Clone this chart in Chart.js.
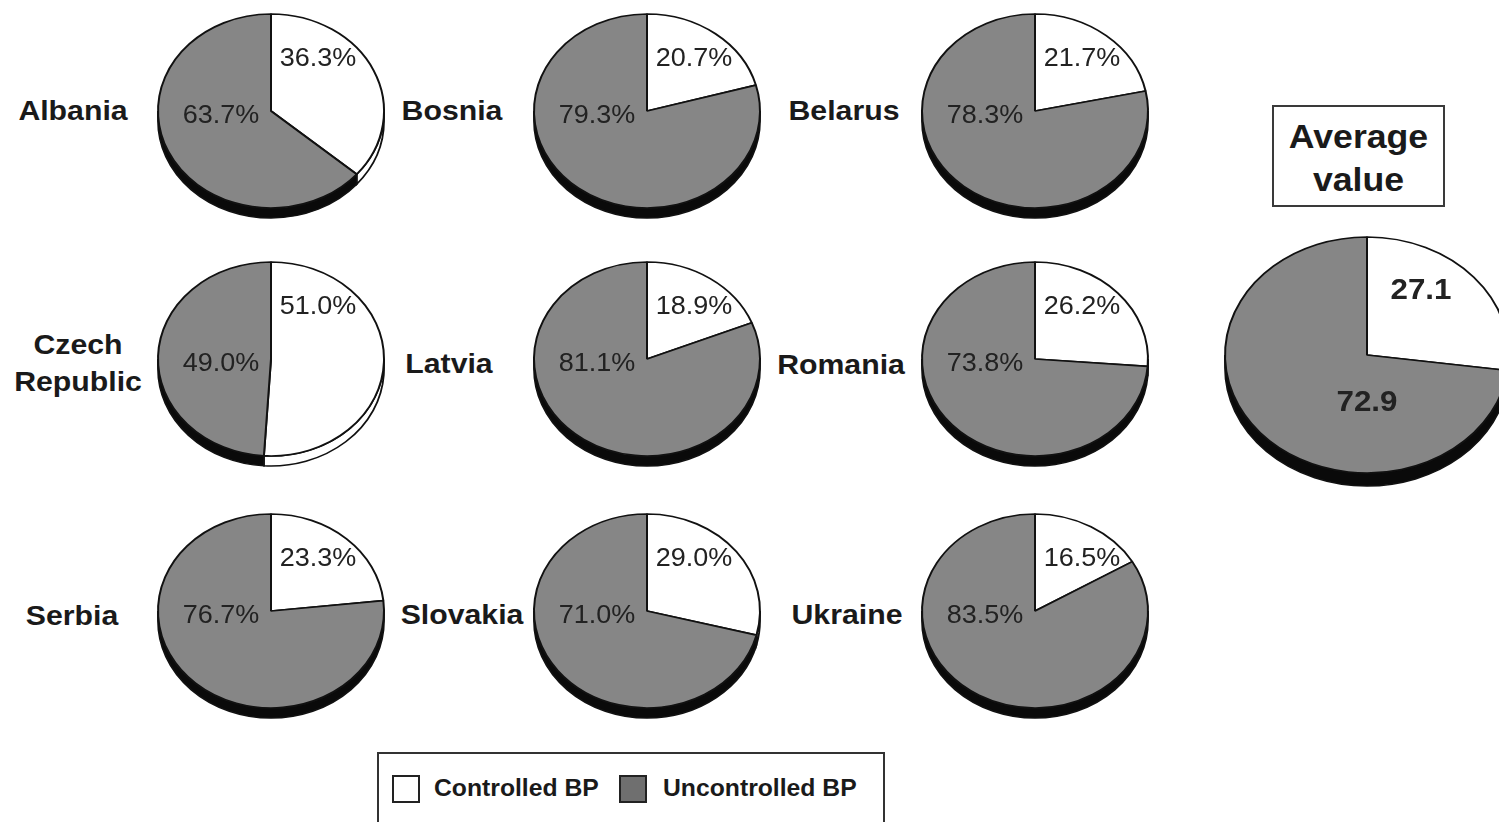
<!DOCTYPE html>
<html>
<head>
<meta charset="utf-8">
<script src="https://cdn.jsdelivr.net/npm/chart.js@4.4.0/dist/chart.umd.min.js"></script>
<style>
  html, body { margin: 0; padding: 0; background: #fff; overflow: hidden; }
  #stage { position: relative; width: 1499px; height: 822px; overflow: hidden; background: #fff;
           font-family: "Liberation Sans", Arial, Helvetica, sans-serif; color: #1a1a1a; }
  .pie { position: absolute; }
  .country { position: absolute; font-weight: bold; font-size: 28px; line-height: 37px; text-align: center;
             white-space: nowrap; transform: translate(-50%, -50%) scaleX(1.08); }
  #avgBox { position: absolute; left: 1272px; top: 105px; width: 169px; height: 98px; border: 2px solid #3a3a3a;
            font-weight: bold; font-size: 33px; line-height: 43px; text-align: center; }
  #avgBox div { transform: scaleX(1.08); }
  #avgBox .l1 { margin-top: 8px; }
  #legend { position: absolute; left: 377px; top: 752px; width: 504px; height: 120px; border: 2px solid #333; }
  #legend .sw { position: absolute; top: 21px; width: 24px; height: 24px; border: 2px solid #222; }
  #legend .lt { position: absolute; top: 19px; font-weight: bold; font-size: 24px; line-height: 30px; white-space: nowrap;
                transform-origin: left center; transform: scaleX(1.03); }
</style>
</head>
<body>
<div id="stage"></div>
<script>
// ---- data ----
const countries = ["Albania", "Bosnia", "Belarus", "Czech Republic", "Latvia", "Romania", "Serbia", "Slovakia", "Ukraine"];
const controlled = [36.3, 20.7, 21.7, 51.0, 18.9, 26.2, 23.3, 29.0, 16.5];
const uncontrolled = [63.7, 79.3, 78.3, 49.0, 81.1, 73.8, 76.7, 71.0, 83.5];
const seriesLabels = ["Controlled BP", "Uncontrolled BP"];
const avgControlled = 27.1;
const avgUncontrolled = 72.9;

// ---- layout ----
const colX = [271, 647, 1035];
const rowY = [111, 359, 611];
const nameX = [73, 452, 844, 78, 449, 841, 72, 462, 847];
const nameY = [110, 110, 110, 363, 363, 364, 615, 614, 614];
const faceColors = ["#ffffff", "#868686"];
const sideColors = ["#ffffff", "#0a0a0a"];
const legendColors = ["#ffffff", "#6f6f6f"];

Chart.defaults.font.family = '"Liberation Sans", Arial, Helvetica, sans-serif';

const stage = document.getElementById("stage");

// tilted pie: side wall + squashed face + fixed label spots
const pie3d = {
  id: "pie3d",
  beforeDatasetsDraw(chart, args, opts) {
    const ctx = chart.ctx;
    const arcs = chart.getDatasetMeta(0).data;
    const cx = arcs[0].x, cy = arcs[0].y, r = arcs[0].outerRadius;
    const sy = opts.squash;
    const d = opts.depth / sy;
    ctx.save();
    ctx.translate(cx, cy);
    ctx.scale(1, sy);
    ctx.translate(-cx, -cy);
    // visible wall is the front half (canvas angles 0..PI)
    arcs.forEach((arc, i) => {
      const s = Math.max(arc.startAngle, 0);
      const e = Math.min(arc.endAngle, Math.PI);
      if (e <= s) return;
      ctx.beginPath();
      ctx.arc(cx, cy, r, s, e);
      ctx.arc(cx, cy + d, r, e, s, true);
      ctx.closePath();
      ctx.fillStyle = sideColors[i];
      ctx.fill();
      ctx.lineWidth = 1.8;
      ctx.strokeStyle = "#111";
      ctx.stroke();
    });
  },
  afterDatasetsDraw(chart, args, opts) {
    const ctx = chart.ctx;
    ctx.restore();
    const arcs = chart.getDatasetMeta(0).data;
    const values = chart.data.datasets[0].data;
    ctx.save();
    ctx.fillStyle = "#222";
    ctx.font = opts.font;
    ctx.textAlign = "center";
    ctx.textBaseline = "middle";
    arcs.forEach((arc, i) => {
      const [dx, dy] = opts.spots[i];
      ctx.save();
      ctx.translate(arc.x + dx, arc.y + dy);
      ctx.scale(1.08, 1);
      ctx.fillText(values[i].toFixed(1) + opts.suffix, 0, 0);
      ctx.restore();
    });
    ctx.restore();
  }
};

function makePie(cx, cy, r, ry, depth, values, labelOpts) {
  const size = 2 * r + 12;
  const canvas = document.createElement("canvas");
  canvas.className = "pie";
  canvas.width = size;
  canvas.height = size;
  canvas.style.width = size + "px";
  canvas.style.height = size + "px";
  canvas.style.left = (cx - size / 2) + "px";
  canvas.style.top = (cy - size / 2) + "px";
  stage.appendChild(canvas);

  new Chart(canvas.getContext("2d"), {
    type: "pie",
    data: {
      labels: seriesLabels,
      datasets: [{
        data: values,
        backgroundColor: faceColors,
        borderColor: "#111",
        borderWidth: 2,
        radius: r,
        clip: false
      }]
    },
    options: {
      responsive: false,
      animation: false,
      events: [],
      layout: { padding: 0 },
      plugins: {
        legend: { display: false },
        tooltip: { enabled: false },
        pie3d: { squash: ry / r, depth, ...labelOpts }
      }
    },
    plugins: [pie3d]
  });
}

// country pies
countries.forEach((name, i) => {
  const cx = colX[i % 3];
  const cy = rowY[Math.floor(i / 3)];
  makePie(cx, cy, 113, 97, 10, [controlled[i], uncontrolled[i]], {
    font: "25px 'Liberation Sans', Arial, sans-serif",
    suffix: "%",
    spots: [[47, -52], [-50, 5]]
  });

  const lab = document.createElement("div");
  lab.className = "country";
  lab.style.left = nameX[i] + "px";
  lab.style.top = nameY[i] + "px";
  lab.innerHTML = name.replace(" ", "<br>");
  stage.appendChild(lab);
});

// average pie
makePie(1367, 355, 142, 118, 13, [avgControlled, avgUncontrolled], {
  font: "bold 29px 'Liberation Sans', Arial, sans-serif",
  suffix: "",
  spots: [[54, -64], [0, 48]]
});

const avgBox = document.createElement("div");
avgBox.id = "avgBox";
avgBox.innerHTML = '<div class="l1">Average</div><div>value</div>';
stage.appendChild(avgBox);

// legend
const legend = document.createElement("div");
legend.id = "legend";
const swLeft = [13, 240];
const txtLeft = [55, 284];
seriesLabels.forEach((txt, i) => {
  const sw = document.createElement("span");
  sw.className = "sw";
  sw.style.left = swLeft[i] + "px";
  sw.style.background = legendColors[i];
  legend.appendChild(sw);
  const lt = document.createElement("span");
  lt.className = "lt";
  lt.style.left = txtLeft[i] + "px";
  lt.textContent = txt;
  legend.appendChild(lt);
});
stage.appendChild(legend);
</script>
</body>
</html>
